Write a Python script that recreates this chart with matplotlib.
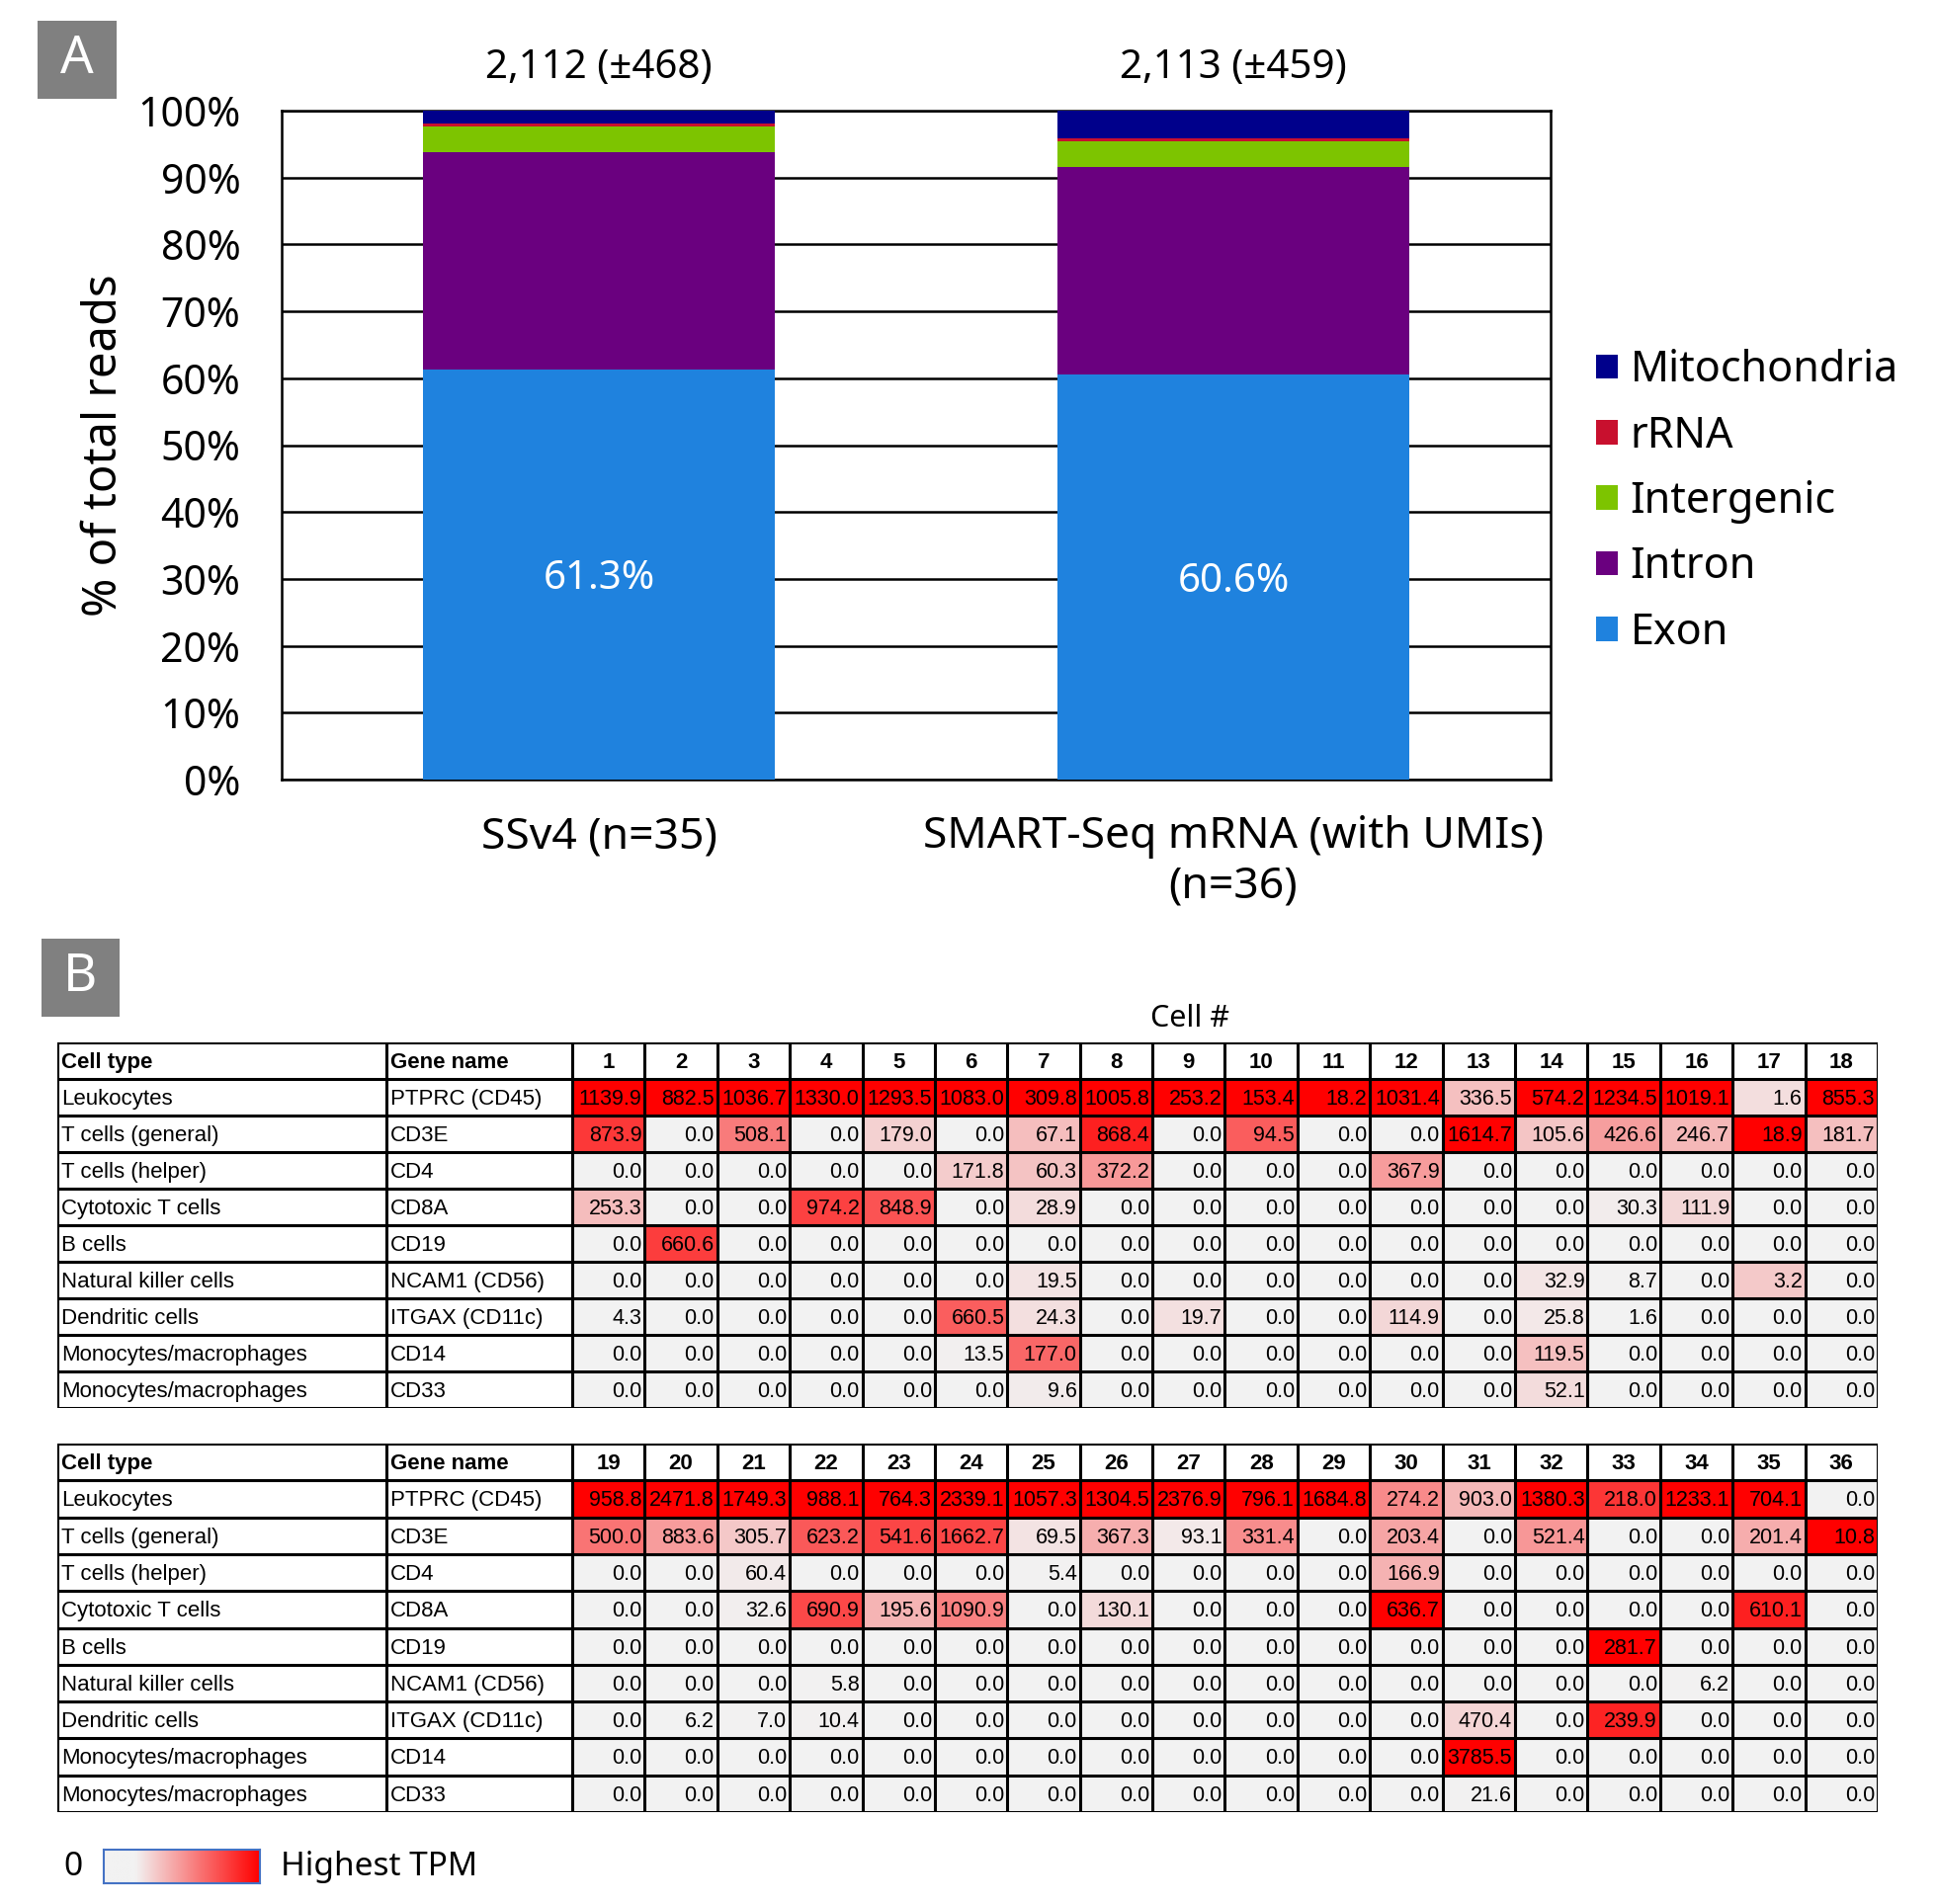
import matplotlib
matplotlib.use("Agg")
import matplotlib.pyplot as plt
import numpy as np
from matplotlib.patches import Rectangle
from matplotlib.colors import LinearSegmentedColormap
from matplotlib import font_manager

plt.rcParams['font.family'] = ['Noto Sans', 'DejaVu Sans']

names = {f.name for f in font_manager.fontManager.ttflist}
NARROW = 'Liberation Sans Narrow' if 'Liberation Sans Narrow' in names else 'Liberation Sans'
NUM_SIZE = 17.5 if NARROW == 'Liberation Sans Narrow' else 15.5
LBL_SIZE = 17.5 if NARROW == 'Liberation Sans Narrow' else 16

# ---- panel A data ----
categories = ['SSv4 (n=35)', 'SMART-Seq mRNA (with UMIs)\n(n=36)']
read_counts = ['2,112 (±468)', '2,113 (±459)']
exon = [61.3, 60.6]
intron = [32.5, 31.0]
intergenic = [3.9, 3.8]
rrna = [0.4, 0.5]
mito = [1.9, 4.1]

# ---- panel B data ----
cell_types = ['Leukocytes', 'T cells (general)', 'T cells (helper)', 'Cytotoxic T cells',
              'B cells', 'Natural killer cells', 'Dendritic cells',
              'Monocytes/macrophages', 'Monocytes/macrophages']
gene_names = ['PTPRC (CD45)', 'CD3E', 'CD4', 'CD8A', 'CD19', 'NCAM1 (CD56)',
              'ITGAX (CD11c)', 'CD14', 'CD33']
cells = list(range(1, 37))

ptprc = [1139.9, 882.5, 1036.7, 1330.0, 1293.5, 1083.0, 309.8, 1005.8, 253.2,
         153.4, 18.2, 1031.4, 336.5, 574.2, 1234.5, 1019.1, 1.6, 855.3,
         958.8, 2471.8, 1749.3, 988.1, 764.3, 2339.1, 1057.3, 1304.5, 2376.9,
         796.1, 1684.8, 274.2, 903.0, 1380.3, 218.0, 1233.1, 704.1, 0.0]
cd3e = [873.9, 0.0, 508.1, 0.0, 179.0, 0.0, 67.1, 868.4, 0.0,
        94.5, 0.0, 0.0, 1614.7, 105.6, 426.6, 246.7, 18.9, 181.7,
        500.0, 883.6, 305.7, 623.2, 541.6, 1662.7, 69.5, 367.3, 93.1,
        331.4, 0.0, 203.4, 0.0, 521.4, 0.0, 0.0, 201.4, 10.8]
cd4 = [0.0, 0.0, 0.0, 0.0, 0.0, 171.8, 60.3, 372.2, 0.0,
       0.0, 0.0, 367.9, 0.0, 0.0, 0.0, 0.0, 0.0, 0.0,
       0.0, 0.0, 60.4, 0.0, 0.0, 0.0, 5.4, 0.0, 0.0,
       0.0, 0.0, 166.9, 0.0, 0.0, 0.0, 0.0, 0.0, 0.0]
cd8a = [253.3, 0.0, 0.0, 974.2, 848.9, 0.0, 28.9, 0.0, 0.0,
        0.0, 0.0, 0.0, 0.0, 0.0, 30.3, 111.9, 0.0, 0.0,
        0.0, 0.0, 32.6, 690.9, 195.6, 1090.9, 0.0, 130.1, 0.0,
        0.0, 0.0, 636.7, 0.0, 0.0, 0.0, 0.0, 610.1, 0.0]
cd19 = [0.0, 660.6, 0.0, 0.0, 0.0, 0.0, 0.0, 0.0, 0.0,
        0.0, 0.0, 0.0, 0.0, 0.0, 0.0, 0.0, 0.0, 0.0,
        0.0, 0.0, 0.0, 0.0, 0.0, 0.0, 0.0, 0.0, 0.0,
        0.0, 0.0, 0.0, 0.0, 0.0, 281.7, 0.0, 0.0, 0.0]
ncam1 = [0.0, 0.0, 0.0, 0.0, 0.0, 0.0, 19.5, 0.0, 0.0,
         0.0, 0.0, 0.0, 0.0, 32.9, 8.7, 0.0, 3.2, 0.0,
         0.0, 0.0, 0.0, 5.8, 0.0, 0.0, 0.0, 0.0, 0.0,
         0.0, 0.0, 0.0, 0.0, 0.0, 0.0, 6.2, 0.0, 0.0]
itgax = [4.3, 0.0, 0.0, 0.0, 0.0, 660.5, 24.3, 0.0, 19.7,
         0.0, 0.0, 114.9, 0.0, 25.8, 1.6, 0.0, 0.0, 0.0,
         0.0, 6.2, 7.0, 10.4, 0.0, 0.0, 0.0, 0.0, 0.0,
         0.0, 0.0, 0.0, 470.4, 0.0, 239.9, 0.0, 0.0, 0.0]
cd14 = [0.0, 0.0, 0.0, 0.0, 0.0, 13.5, 177.0, 0.0, 0.0,
        0.0, 0.0, 0.0, 0.0, 119.5, 0.0, 0.0, 0.0, 0.0,
        0.0, 0.0, 0.0, 0.0, 0.0, 0.0, 0.0, 0.0, 0.0,
        0.0, 0.0, 0.0, 3785.5, 0.0, 0.0, 0.0, 0.0, 0.0]
cd33 = [0.0, 0.0, 0.0, 0.0, 0.0, 0.0, 9.6, 0.0, 0.0,
        0.0, 0.0, 0.0, 0.0, 52.1, 0.0, 0.0, 0.0, 0.0,
        0.0, 0.0, 0.0, 0.0, 0.0, 0.0, 0.0, 0.0, 0.0,
        0.0, 0.0, 0.0, 21.6, 0.0, 0.0, 0.0, 0.0, 0.0]

tpm = np.array([ptprc, cd3e, cd4, cd8a, cd19, ncam1, itgax, cd14, cd33])

W, H = 1961, 1927
fig = plt.figure(figsize=(W / 100, H / 100), dpi=100)


def fx(px):
    return px / W


def fy(px):
    return 1 - px / H


def panel_letter(letter, x0, y0, x1, y1):
    fig.add_artist(Rectangle((fx(x0), fy(y1)), fx(x1) - fx(x0), fy(y0) - fy(y1),
                             transform=fig.transFigure, color='#808080', lw=0))
    fig.text((fx(x0) + fx(x1)) / 2, (fy(y0) + fy(y1)) / 2, letter, color='white',
             fontsize=38, fontweight='light', ha='center', va='center')


# ---------------- panel A ----------------
colors = {'Exon': '#1f82de', 'Intron': '#6a007f', 'Intergenic': '#7dc400',
          'rRNA': '#c8102e', 'Mitochondria': '#00008b'}
ax = fig.add_axes([fx(285), fy(789), fx(1569) - fx(285), fy(112) - fy(789)])
x = np.arange(len(categories))
bottom = np.zeros(len(categories))
handles = {}
for name, vals in [('Exon', exon), ('Intron', intron), ('Intergenic', intergenic),
                   ('rRNA', rrna), ('Mitochondria', mito)]:
    handles[name] = ax.bar(x, vals, 0.555, bottom=bottom, color=colors[name],
                           label=name, zorder=3)
    bottom += np.array(vals)

for i in x:
    ax.text(i, exon[i] / 2, f'{exon[i]}%', color='white', fontsize=29,
            ha='center', va='center_baseline', zorder=4)
    ax.annotate(read_counts[i], xy=(i, 100), xytext=(0, 31), textcoords='offset points',
                ha='center', va='center', fontsize=29)

ax.set_xlim(-0.5, 1.5)
ax.set_ylim(0, 100)
ax.set_yticks(np.arange(0, 101, 10))
ax.set_yticklabels([f'{v}%' for v in range(0, 101, 10)], fontsize=29.5)
ax.set_xticks(x)
ax.set_xticklabels(categories, fontsize=32, linespacing=1.2)
ax.tick_params(axis='y', length=0, pad=30)
ax.tick_params(axis='x', length=0, pad=26)
ax.yaxis.grid(True, color='black', lw=1.8, zorder=0)
ax.set_axisbelow(True)
for s in ax.spines.values():
    s.set_color('black')
    s.set_linewidth(1.8)
ax.set_ylabel('% of total reads', fontsize=34)
ax.yaxis.set_label_coords((129 - 285) / 1284, 0.5)

order = ['Mitochondria', 'rRNA', 'Intergenic', 'Intron', 'Exon']
fig.legend([handles[k] for k in order], order, loc='center left',
           bbox_to_anchor=(fx(1615), fy(508)), frameon=False, fontsize=31,
           handlelength=0.5, handleheight=0.5, handletextpad=0.3,
           labelspacing=0.52, borderpad=0, borderaxespad=0)

panel_letter('A', 38, 21, 118, 100)
panel_letter('B', 42, 950, 121, 1029)

# ---------------- panel B ----------------
cmap = LinearSegmentedColormap.from_list('tpm', ['#f2f2f2', '#ff0000'])
col_w = [4.537, 2.562] + [1.0] * 18
x_edges = np.concatenate([[0], np.cumsum(col_w)])
n_rows = len(gene_names)


def draw_table(top, bottom_px, cols):
    t = fig.add_axes([fx(58), fy(bottom_px), fx(1900) - fx(58), fy(top) - fy(bottom_px)])
    t.set_xlim(0, x_edges[-1])
    t.set_ylim(n_rows + 1, 0)
    t.axis('off')
    vals = tpm[:, cols]
    norm_vals = vals / vals.max(axis=0)
    t.pcolormesh(x_edges[2:], np.arange(1, n_rows + 2), norm_vals, cmap=cmap,
                 vmin=0, vmax=1, shading='flat', zorder=1)
    t.hlines(np.arange(0, n_rows + 2), 0, x_edges[-1], color='black', lw=2.2, zorder=3,
             capstyle='projecting')
    t.vlines(x_edges, 0, n_rows + 1, color='black', lw=2.2, zorder=3, capstyle='projecting')
    hdr = dict(fontsize=16, fontweight='bold', family='Liberation Sans', va='center')
    t.text(x_edges[0] + 0.05, 0.55, 'Cell type', ha='left', **hdr)
    t.text(x_edges[1] + 0.05, 0.55, 'Gene name', ha='left', **hdr)
    for j, c in enumerate(cols):
        t.text((x_edges[2 + j] + x_edges[3 + j]) / 2, 0.55, str(cells[c]), ha='center', **hdr)
    for r in range(n_rows):
        yc = r + 1.55
        t.text(x_edges[0] + 0.05, yc, cell_types[r], ha='left', va='center',
               fontsize=LBL_SIZE, family=NARROW, zorder=4)
        t.text(x_edges[1] + 0.05, yc, gene_names[r], ha='left', va='center',
               fontsize=LBL_SIZE, family=NARROW, zorder=4)
        for j in range(len(cols)):
            t.text(x_edges[3 + j] - 0.04, yc, f'{vals[r, j]:.1f}', ha='right', va='center',
                   fontsize=NUM_SIZE, family=NARROW, zorder=4)
    return t


t1 = draw_table(1055, 1425, list(range(0, 18)))
t1.text((1204 - 58) / (1900 - 58), 1.0 + 24 / 370, 'Cell #', transform=t1.transAxes,
        ha='center', va='center', fontsize=22)
draw_table(1461, 1834, list(range(18, 36)))

# colour scale legend
cb = fig.add_axes([fx(105), fy(1906), fx(263) - fx(105), fy(1872) - fy(1906)])
grad = np.clip((np.linspace(0, 1, 256) - 0.2) / 0.8, 0, 1)[None, :]
cb.imshow(grad, cmap=cmap, aspect='auto', extent=(0, 1, 0, 1))
cb.set_xticks([])
cb.set_yticks([])
for s in cb.spines.values():
    s.set_color('#4472c4')
    s.set_linewidth(1.5)
fig.text(fx(74), fy(1889), '0', ha='center', va='center', fontsize=24)
fig.text(fx(284), fy(1889), 'Highest TPM', ha='left', va='center', fontsize=24)

fig.savefig('out.png', dpi=100)
